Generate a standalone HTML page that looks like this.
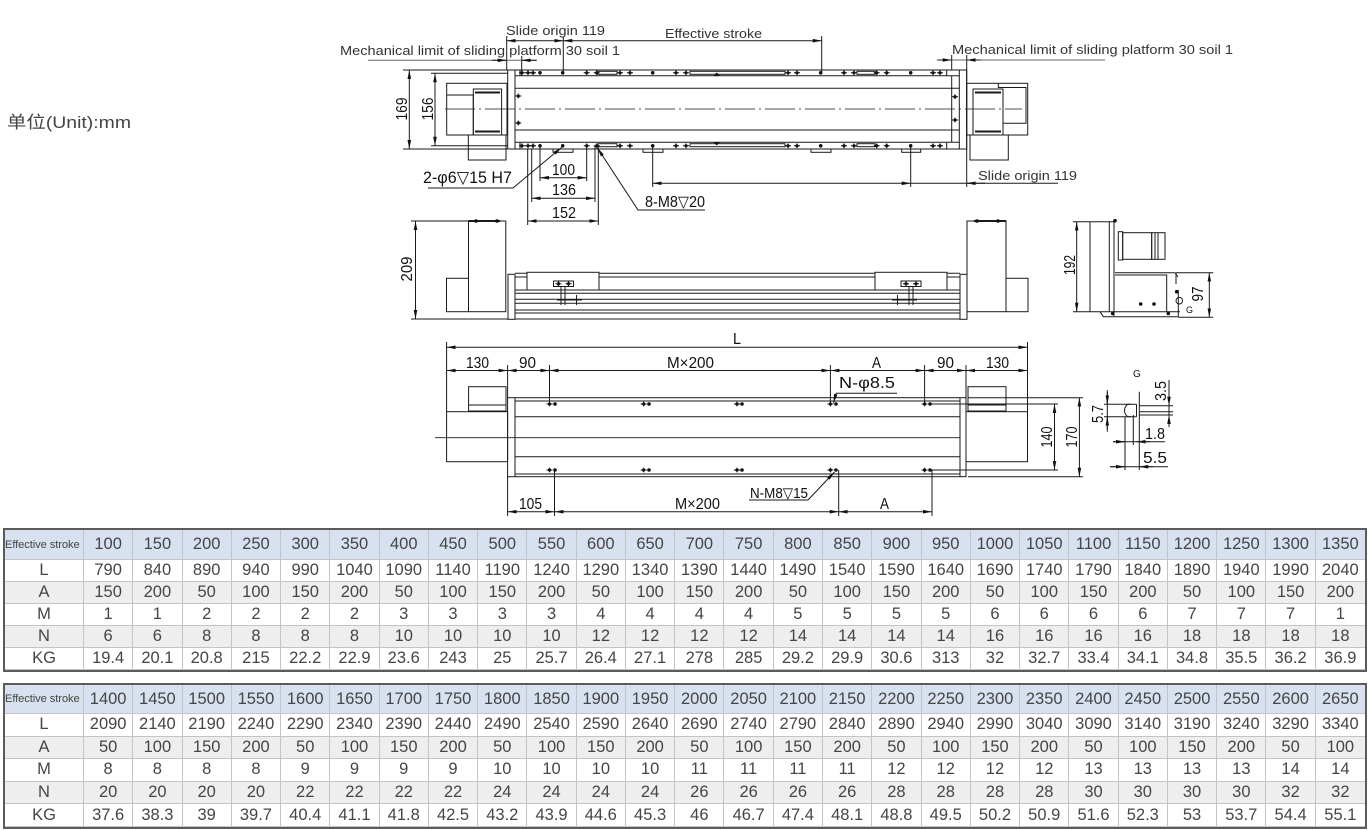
<!DOCTYPE html>
<html><head><meta charset="utf-8">
<style>
html,body{margin:0;padding:0;background:#fff;}
body{width:1370px;height:830px;position:relative;overflow:hidden;}
svg text{stroke:none;}
.c{font-family:"Liberation Sans Narrow","Liberation Sans",sans-serif;font-size:16px;fill:#111;}
.s{font-family:"Liberation Sans","Noto Sans CJK SC",sans-serif;font-size:13px;fill:#333;}
.d{marker-start:url(#a);marker-end:url(#a);}
.e{marker-end:url(#a);}
.t{position:absolute;left:3px;width:1364px;box-sizing:border-box;border:2px solid #5b5b5b;display:grid;grid-template-columns:79px repeat(26,1fr);font-family:"Liberation Sans",sans-serif;font-size:16.5px;color:#454545;}
.t i{font-style:normal;display:flex;align-items:center;justify-content:center;border-right:1px solid #c4c4c4;border-bottom:1px solid #c4c4c4;white-space:nowrap;overflow:hidden;}
.t i:nth-child(27n){border-right:none;}
.t i:nth-child(-n+27){background:#d8e1f0;}
.t i:nth-child(n+55):nth-child(-n+81),.t i:nth-child(n+109):nth-child(-n+135){background:#eeeeee;}
.t i:first-child{font-size:11.2px;justify-content:flex-start;letter-spacing:-0.1px;}
#t1{top:528px;height:144px;grid-template-rows:30px repeat(5,1fr);}
#t2{top:683px;height:146px;grid-template-rows:29px repeat(5,1fr);}
</style></head><body>
<svg width="1370" height="525" style="position:absolute;left:0;top:0" xmlns="http://www.w3.org/2000/svg">
<defs>
<marker id="a" viewBox="0 0 10 4" refX="10" refY="2" markerWidth="9" markerHeight="3.6" markerUnits="userSpaceOnUse" orient="auto-start-reverse"><path d="M0,0L10,2L0,4z" fill="#111"/></marker>
<g id="h"><circle r="1.6" fill="#111"/><path d="M-3,0H3M0,-2.4V2.4" stroke="#111" stroke-width="1"/></g>
<g id="p"><circle r="1.8" fill="#111"/></g>
</defs>

<text x="7" y="128" textLength="124" lengthAdjust="spacingAndGlyphs" style="font-family:'Liberation Sans','Noto Sans CJK SC',sans-serif;font-size:17px;fill:#444">单位(Unit):mm</text>

<g stroke="#1a1a1a" stroke-width="1" fill="none">
<!-- ===== TOP VIEW ===== -->
<path d="M403,70H966.7M403,149H966.7M431,73.3H507.7M431,145.7H507.7"/>
<rect x="507.7" y="70" width="7.3" height="79"/>
<path d="M515,75.7H959.3M515,88.3H959.3M515,130H959.3M515,142.3H959.3"/>
<path d="M520,70V75.7M520,142.3V149M946.7,70V75.7M946.7,142.3V149M951.7,75.7V142.3"/>
<rect x="959.3" y="70" width="7.4" height="79"/>
<rect x="598" y="71.3" width="19" height="3"/><rect x="690" y="71.3" width="95" height="3"/><rect x="857" y="71.3" width="18" height="3"/>
<rect x="598" y="143.7" width="19" height="3"/><rect x="690" y="143.7" width="95" height="3"/><rect x="857" y="143.7" width="18" height="3"/>
<rect x="553" y="149" width="20" height="3.3"/><rect x="643" y="149" width="20" height="3.3"/><rect x="811" y="149" width="20" height="3.3"/><rect x="901.7" y="149" width="19" height="3.3"/>
<path d="M445,109H1022" stroke-dasharray="30,4,2,4" stroke-width="0.8"/>
<rect x="446.7" y="83.3" width="60.3" height="51.7"/>
<path d="M446.7,95H473.3V135"/>
<rect x="473.3" y="89" width="28.3" height="46"/>
<path d="M475,92.5H500M475,131.5H500" stroke-width="2"/>
<rect x="468.3" y="135" width="37.7" height="25"/>
<rect x="966.7" y="83.3" width="61" height="51.7"/>
<path d="M998.3,83.3V87.5H1026V123.3H1003.3"/>
<rect x="973" y="89" width="30" height="46"/>
<path d="M975,92.5H1001M975,131.5H1001" stroke-width="2"/>
<rect x="970" y="135" width="38.3" height="25"/>
<path class="d" d="M409.3,70V149"/>
<path class="d" d="M435,73.3V145.7"/>
<path d="M506.7,36V70M563.3,37V72M821.7,36V72M521.7,56V76M951.7,55V70M966.7,55V187"/>
<path class="d" d="M506.7,40.7H563.3"/>
<path class="d" d="M563.3,40.7H821.7"/>
<path d="M368,60.3H536.7" stroke="#666"/>
<path class="e" d="M492,60.3H506.7"/>
<path class="e" d="M536.7,60.3H521.7"/>
<path d="M936.7,60H1105" stroke="#666"/>
<path class="e" d="M938,60H951.7"/>
<path class="e" d="M981,60H966.7"/>
<path d="M527.7,149V225M531.7,149V202M540,146V181M586.7,146V181M595,146V202M598.3,146V225M652.7,146V187M910.7,146V187"/>
<path class="d" d="M540,177.7H586.7"/>
<path class="d" d="M531.7,198.3H595"/>
<path class="d" d="M527.7,221H598.3"/>
<path class="d" d="M652.7,183.3H910.7"/>
<path d="M910.7,183.3H1058"/>
<path class="e" d="M985,183.3H966.7"/>
<path class="e" d="M428,188H513L561.5,147.5"/>
<path class="e" d="M705,210H638L597.5,148"/>

<!-- ===== FRONT VIEW ===== -->
<path d="M411,221H468.5M411,319H508"/>
<path class="d" d="M415.5,221V319"/>
<rect x="468.5" y="221" width="37.3" height="90.7"/>
<path d="M468.5,221H500" stroke-width="2"/>
<rect x="446.5" y="278.3" width="22" height="33.4"/>
<rect x="508" y="274.3" width="7" height="45"/>
<path d="M515,273.3H960M515,277H960M515,290H960M515,293.3H960M515,299.3H960M515,303.3H960M515,310H960M515,313H960M515,319H960"/>
<rect x="527" y="272.3" width="72" height="17.7" fill="#fff"/>
<rect x="875" y="272.3" width="72" height="17.7" fill="#fff"/>
<rect x="553.5" y="281" width="20" height="5.5" fill="#fff"/>
<path d="M561,286.5V305M565,286.5V305M557,300H582M576.5,295V305"/>
<rect x="901" y="281" width="20" height="5.5" fill="#fff"/>
<path d="M909,286.5V305M913,286.5V305M892,300H917M897.5,295V305"/>
<rect x="960" y="274.3" width="7" height="45"/>
<rect x="967" y="221" width="39" height="90.7"/>
<path d="M974,221H1006" stroke-width="2"/>
<rect x="1006" y="278.3" width="22" height="33.4"/>

<!-- ===== SIDE VIEW ===== -->
<path d="M1073,221.7H1115M1073,311.7H1100"/>
<path class="d" d="M1076.7,221.7V311.7"/>
<path d="M1090,221.7V311.7M1109.3,221.7V311.7M1114,221V316"/>
<rect x="1118.3" y="231.7" width="4.4" height="28.3"/>
<rect x="1122.7" y="232.7" width="29" height="26.6"/>
<rect x="1151.7" y="232.7" width="13.3" height="26.6"/>
<path d="M1155,232.7V259.3M1158,232.7V259.3"/>
<path d="M1115,272.7H1175L1178,277M1115,275H1166.7V311.7"/>
<path d="M1100,311.7H1180M1100,311.7L1103.3,316.7H1178.3M1176,272.7V284M1178.3,290V316.7"/>
<circle cx="1179.3" cy="300.7" r="3.3"/>
<path d="M1176,272.7H1213.3M1178.3,317.3H1213.3"/>
<path class="d" d="M1209.3,272.7V317.3"/>

<!-- ===== BOTTOM VIEW ===== -->
<path d="M446.6,342V411.7M1027.5,342V411.7"/>
<path class="d" d="M446.6,347.3H1027.5"/>
<path d="M507.6,365V397.7M549.5,365V404M830.4,365V404M924.6,365V404M966,365V397.7"/>
<path class="d" d="M446.6,370.5H507.6"/>
<path class="d" d="M507.6,370.5H549.5"/>
<path class="d" d="M549.5,370.5H830.4"/>
<path class="d" d="M830.4,370.5H924.6"/>
<path class="d" d="M924.6,370.5H966"/>
<path class="d" d="M966,370.5H1027.5"/>
<rect x="507.6" y="397.7" width="458.4" height="79"/>
<path d="M515,397.7V476.7M960,397.7V476.7M515,401H960M515,416.7H960M515,456.7H960M515,474H960"/>
<path d="M435,437.7H960" stroke-width="0.9"/>
<rect x="446.6" y="411.7" width="61" height="50"/>
<rect x="468.6" y="386.7" width="37.4" height="24.3"/>
<path d="M468.6,405H506"/>
<rect x="966" y="411.7" width="61.5" height="50"/>
<rect x="968" y="386.7" width="38" height="24.3"/>
<path d="M968,405H1006"/>
<path d="M930,404H1058M930,470H1058M968,397.7H1083M968,476.7H1083"/>
<path class="d" d="M1054.5,404V470"/>
<path class="d" d="M1079.4,397.7V476.7"/>
<path d="M836,393.3H897"/>
<path class="e" d="M836,393.3L833.5,403"/>
<path d="M749,500H808"/>
<path class="e" d="M808,500L834.5,472"/>
<path d="M507.6,476.7V516M554.5,470V516M838.7,470V516M932,470V516"/>
<path class="d" d="M507.6,511.7H554.5"/>
<path class="d" d="M554.5,511.7H838.7"/>
<path class="d" d="M838.7,511.7H932"/>

<!-- ===== G DETAIL ===== -->
<path d="M1107.3,390V431.7M1104,404.3H1131M1104,416.7H1131"/>
<path class="e" d="M1107.3,392V404.3"/>
<path class="e" d="M1107.3,429V416.7"/>
<path d="M1136.5,404.3H1129A4.5,6.2 0 0 0 1129,416.7H1136.5M1136.5,404.3V416.7"/>
<path d="M1139.3,391.7V470M1139.3,405.7H1173M1139.3,411.7H1173M1139.3,415H1173M1125,416.7V470M1133.3,415V445"/>
<path d="M1169,380V421.7"/>
<path class="e" d="M1169,393V405.7"/>
<path class="e" d="M1169,427V415"/>
<path d="M1113,441.7H1165"/>
<path class="e" d="M1113,441.7H1125"/>
<path class="e" d="M1150,441.7H1136.7"/>
<path d="M1110,466.7H1168"/>
<path class="e" d="M1110,466.7H1125"/>
<path class="e" d="M1153,466.7H1139.3"/>
</g>

<g>
<use href="#h" x="522" y="72.8"/><use href="#h" x="528" y="72.8"/><use href="#h" x="533" y="72.8"/>
<use href="#p" x="540" y="72.8"/><use href="#p" x="562.7" y="72.8"/>
<use href="#h" x="586.7" y="72.8"/><use href="#h" x="596.7" y="72.8"/><use href="#h" x="620" y="72.8"/><use href="#h" x="630" y="72.8"/>
<use href="#p" x="652.7" y="72.8"/><use href="#h" x="676" y="72.8"/><use href="#h" x="686" y="72.8"/>
<use href="#h" x="788" y="72.8"/><use href="#h" x="797" y="72.8"/><use href="#p" x="820.7" y="72.8"/>
<use href="#h" x="844" y="72.8"/><use href="#h" x="854" y="72.8"/><use href="#h" x="876.7" y="72.8"/><use href="#h" x="886.7" y="72.8"/>
<use href="#p" x="910.7" y="72.8"/><use href="#h" x="933" y="72.8"/><use href="#h" x="940" y="72.8"/>
<use href="#h" x="522" y="145.8"/><use href="#h" x="528" y="145.8"/><use href="#h" x="533" y="145.8"/>
<use href="#p" x="540" y="145.8"/><use href="#p" x="562.7" y="145.8"/>
<use href="#h" x="586.7" y="145.8"/><use href="#h" x="596.7" y="145.8"/><use href="#h" x="620" y="145.8"/><use href="#h" x="630" y="145.8"/>
<use href="#p" x="652.7" y="145.8"/><use href="#h" x="676" y="145.8"/><use href="#h" x="686" y="145.8"/>
<use href="#h" x="788" y="145.8"/><use href="#h" x="797" y="145.8"/><use href="#p" x="820.7" y="145.8"/>
<use href="#h" x="844" y="145.8"/><use href="#h" x="854" y="145.8"/><use href="#h" x="876.7" y="145.8"/><use href="#h" x="886.7" y="145.8"/>
<use href="#p" x="910.7" y="145.8"/><use href="#h" x="933" y="145.8"/><use href="#h" x="940" y="145.8"/>
<use href="#h" x="518.3" y="96"/><use href="#h" x="518.3" y="123"/><use href="#h" x="955" y="96.7"/><use href="#h" x="955" y="120"/>
<path d="M713.5,75.7L716.7,72.5L720,75.7z M713.5,142.3L716.7,145.5L720,142.3z" fill="#111"/>
<use href="#p" x="476" y="221"/><use href="#p" x="497" y="221"/><use href="#p" x="977" y="221"/><use href="#p" x="998" y="221"/>
<use href="#p" x="1115" y="220.7"/><use href="#p" x="1140.7" y="304"/><use href="#p" x="1154" y="304"/>
<use href="#p" x="1112.7" y="313.5"/><use href="#p" x="1168.3" y="313.5"/><use href="#p" x="1176.7" y="291.7"/>
<use href="#h" x="549.5" y="404"/><use href="#p" x="555" y="404"/>
<use href="#h" x="643.7" y="404"/><use href="#p" x="649" y="404"/>
<use href="#h" x="737" y="404"/><use href="#p" x="742" y="404"/>
<use href="#h" x="830.4" y="404"/><use href="#p" x="836" y="404"/>
<use href="#h" x="924.6" y="404"/><use href="#p" x="930" y="404"/>
<use href="#h" x="549.5" y="470"/><use href="#p" x="555" y="470"/>
<use href="#h" x="643.7" y="470"/><use href="#p" x="649" y="470"/>
<use href="#h" x="737" y="470"/><use href="#p" x="742" y="470"/>
<use href="#h" x="830.4" y="470"/><use href="#p" x="836" y="470"/>
<use href="#h" x="924.6" y="470"/><use href="#p" x="930" y="470"/>
<use href="#h" x="558.5" y="283.7"/><use href="#h" x="568.5" y="283.7"/><use href="#h" x="906" y="283.7"/><use href="#h" x="916" y="283.7"/>
</g>

<text class="s" x="506" y="35" textLength="99" lengthAdjust="spacingAndGlyphs">Slide origin 119</text>
<text class="s" x="665" y="38" textLength="97" lengthAdjust="spacingAndGlyphs">Effective stroke</text>
<text class="s" x="340" y="55" textLength="280" lengthAdjust="spacingAndGlyphs">Mechanical limit of sliding platform 30 soil 1</text>
<text class="s" x="952" y="54" textLength="281" lengthAdjust="spacingAndGlyphs">Mechanical limit of sliding platform 30 soil 1</text>
<text class="s" x="978" y="180" textLength="99" lengthAdjust="spacingAndGlyphs">Slide origin 119</text>

<text class="c" transform="translate(407,109) rotate(-90)" text-anchor="middle" textLength="23" lengthAdjust="spacingAndGlyphs">169</text>
<text class="c" transform="translate(433,109) rotate(-90)" text-anchor="middle" textLength="23" lengthAdjust="spacingAndGlyphs">156</text>
<text class="c" x="423" y="183" textLength="89" lengthAdjust="spacingAndGlyphs" style="font-size:17px">2-φ6▽15 H7</text>
<text class="c" x="552" y="175" textLength="23" lengthAdjust="spacingAndGlyphs">100</text>
<text class="c" x="552" y="195" textLength="24" lengthAdjust="spacingAndGlyphs">136</text>
<text class="c" x="552" y="218" textLength="24" lengthAdjust="spacingAndGlyphs">152</text>
<text class="c" x="645" y="207" textLength="60" lengthAdjust="spacingAndGlyphs">8-M8▽20</text>

<text class="c" transform="translate(412,269) rotate(-90)" text-anchor="middle" textLength="25" lengthAdjust="spacingAndGlyphs">209</text>
<text class="c" transform="translate(1075,265) rotate(-90)" text-anchor="middle" textLength="20" lengthAdjust="spacingAndGlyphs">192</text>
<text class="c" transform="translate(1203,294) rotate(-90)" text-anchor="middle" textLength="15" lengthAdjust="spacingAndGlyphs">97</text>
<text class="c" x="1186" y="313" style="font-size:9px">G</text>

<text class="c" x="733" y="344" textLength="8" lengthAdjust="spacingAndGlyphs">L</text>
<text class="c" x="466" y="368" textLength="23" lengthAdjust="spacingAndGlyphs">130</text>
<text class="c" x="519" y="368" textLength="17" lengthAdjust="spacingAndGlyphs">90</text>
<text class="c" x="667" y="368" textLength="47" lengthAdjust="spacingAndGlyphs">M×200</text>
<text class="c" x="872" y="368" textLength="9" lengthAdjust="spacingAndGlyphs">A</text>
<text class="c" x="937" y="368" textLength="17" lengthAdjust="spacingAndGlyphs">90</text>
<text class="c" x="986" y="368" textLength="23" lengthAdjust="spacingAndGlyphs">130</text>
<text class="c" x="839" y="388" textLength="56" lengthAdjust="spacingAndGlyphs">N-φ8.5</text>
<text class="c" x="750" y="498" textLength="58" lengthAdjust="spacingAndGlyphs" style="font-size:15px">N-M8▽15</text>
<text class="c" transform="translate(1052,437) rotate(-90)" text-anchor="middle" textLength="21" lengthAdjust="spacingAndGlyphs">140</text>
<text class="c" transform="translate(1077,437) rotate(-90)" text-anchor="middle" textLength="21" lengthAdjust="spacingAndGlyphs">170</text>
<text class="c" x="519" y="509" textLength="23" lengthAdjust="spacingAndGlyphs">105</text>
<text class="c" x="675" y="509" textLength="45" lengthAdjust="spacingAndGlyphs">M×200</text>
<text class="c" x="880" y="509" textLength="9" lengthAdjust="spacingAndGlyphs">A</text>

<text class="c" x="1133" y="377" style="font-size:10px">G</text>
<text class="c" transform="translate(1103,414) rotate(-90)" text-anchor="middle" textLength="18" lengthAdjust="spacingAndGlyphs">5.7</text>
<text class="c" transform="translate(1166,391) rotate(-90)" text-anchor="middle" textLength="20" lengthAdjust="spacingAndGlyphs">3.5</text>
<text class="c" x="1145" y="439" textLength="20" lengthAdjust="spacingAndGlyphs">1.8</text>
<text class="c" x="1143" y="463" textLength="24" lengthAdjust="spacingAndGlyphs">5.5</text>
</svg>

<div class="t" id="t1"><i>Effective stroke</i><i>100</i><i>150</i><i>200</i><i>250</i><i>300</i><i>350</i><i>400</i><i>450</i><i>500</i><i>550</i><i>600</i><i>650</i><i>700</i><i>750</i><i>800</i><i>850</i><i>900</i><i>950</i><i>1000</i><i>1050</i><i>1100</i><i>1150</i><i>1200</i><i>1250</i><i>1300</i><i>1350</i><i>L</i><i>790</i><i>840</i><i>890</i><i>940</i><i>990</i><i>1040</i><i>1090</i><i>1140</i><i>1190</i><i>1240</i><i>1290</i><i>1340</i><i>1390</i><i>1440</i><i>1490</i><i>1540</i><i>1590</i><i>1640</i><i>1690</i><i>1740</i><i>1790</i><i>1840</i><i>1890</i><i>1940</i><i>1990</i><i>2040</i><i>A</i><i>150</i><i>200</i><i>50</i><i>100</i><i>150</i><i>200</i><i>50</i><i>100</i><i>150</i><i>200</i><i>50</i><i>100</i><i>150</i><i>200</i><i>50</i><i>100</i><i>150</i><i>200</i><i>50</i><i>100</i><i>150</i><i>200</i><i>50</i><i>100</i><i>150</i><i>200</i><i>M</i><i>1</i><i>1</i><i>2</i><i>2</i><i>2</i><i>2</i><i>3</i><i>3</i><i>3</i><i>3</i><i>4</i><i>4</i><i>4</i><i>4</i><i>5</i><i>5</i><i>5</i><i>5</i><i>6</i><i>6</i><i>6</i><i>6</i><i>7</i><i>7</i><i>7</i><i>1</i><i>N</i><i>6</i><i>6</i><i>8</i><i>8</i><i>8</i><i>8</i><i>10</i><i>10</i><i>10</i><i>10</i><i>12</i><i>12</i><i>12</i><i>12</i><i>14</i><i>14</i><i>14</i><i>14</i><i>16</i><i>16</i><i>16</i><i>16</i><i>18</i><i>18</i><i>18</i><i>18</i><i>KG</i><i>19.4</i><i>20.1</i><i>20.8</i><i>215</i><i>22.2</i><i>22.9</i><i>23.6</i><i>243</i><i>25</i><i>25.7</i><i>26.4</i><i>27.1</i><i>278</i><i>285</i><i>29.2</i><i>29.9</i><i>30.6</i><i>313</i><i>32</i><i>32.7</i><i>33.4</i><i>34.1</i><i>34.8</i><i>35.5</i><i>36.2</i><i>36.9</i></div>

<div class="t" id="t2"><i>Effective stroke</i><i>1400</i><i>1450</i><i>1500</i><i>1550</i><i>1600</i><i>1650</i><i>1700</i><i>1750</i><i>1800</i><i>1850</i><i>1900</i><i>1950</i><i>2000</i><i>2050</i><i>2100</i><i>2150</i><i>2200</i><i>2250</i><i>2300</i><i>2350</i><i>2400</i><i>2450</i><i>2500</i><i>2550</i><i>2600</i><i>2650</i><i>L</i><i>2090</i><i>2140</i><i>2190</i><i>2240</i><i>2290</i><i>2340</i><i>2390</i><i>2440</i><i>2490</i><i>2540</i><i>2590</i><i>2640</i><i>2690</i><i>2740</i><i>2790</i><i>2840</i><i>2890</i><i>2940</i><i>2990</i><i>3040</i><i>3090</i><i>3140</i><i>3190</i><i>3240</i><i>3290</i><i>3340</i><i>A</i><i>50</i><i>100</i><i>150</i><i>200</i><i>50</i><i>100</i><i>150</i><i>200</i><i>50</i><i>100</i><i>150</i><i>200</i><i>50</i><i>100</i><i>150</i><i>200</i><i>50</i><i>100</i><i>150</i><i>200</i><i>50</i><i>100</i><i>150</i><i>200</i><i>50</i><i>100</i><i>M</i><i>8</i><i>8</i><i>8</i><i>8</i><i>9</i><i>9</i><i>9</i><i>9</i><i>10</i><i>10</i><i>10</i><i>10</i><i>11</i><i>11</i><i>11</i><i>11</i><i>12</i><i>12</i><i>12</i><i>12</i><i>13</i><i>13</i><i>13</i><i>13</i><i>14</i><i>14</i><i>N</i><i>20</i><i>20</i><i>20</i><i>20</i><i>22</i><i>22</i><i>22</i><i>22</i><i>24</i><i>24</i><i>24</i><i>24</i><i>26</i><i>26</i><i>26</i><i>26</i><i>28</i><i>28</i><i>28</i><i>28</i><i>30</i><i>30</i><i>30</i><i>30</i><i>32</i><i>32</i><i>KG</i><i>37.6</i><i>38.3</i><i>39</i><i>39.7</i><i>40.4</i><i>41.1</i><i>41.8</i><i>42.5</i><i>43.2</i><i>43.9</i><i>44.6</i><i>45.3</i><i>46</i><i>46.7</i><i>47.4</i><i>48.1</i><i>48.8</i><i>49.5</i><i>50.2</i><i>50.9</i><i>51.6</i><i>52.3</i><i>53</i><i>53.7</i><i>54.4</i><i>55.1</i></div>
</body></html>
